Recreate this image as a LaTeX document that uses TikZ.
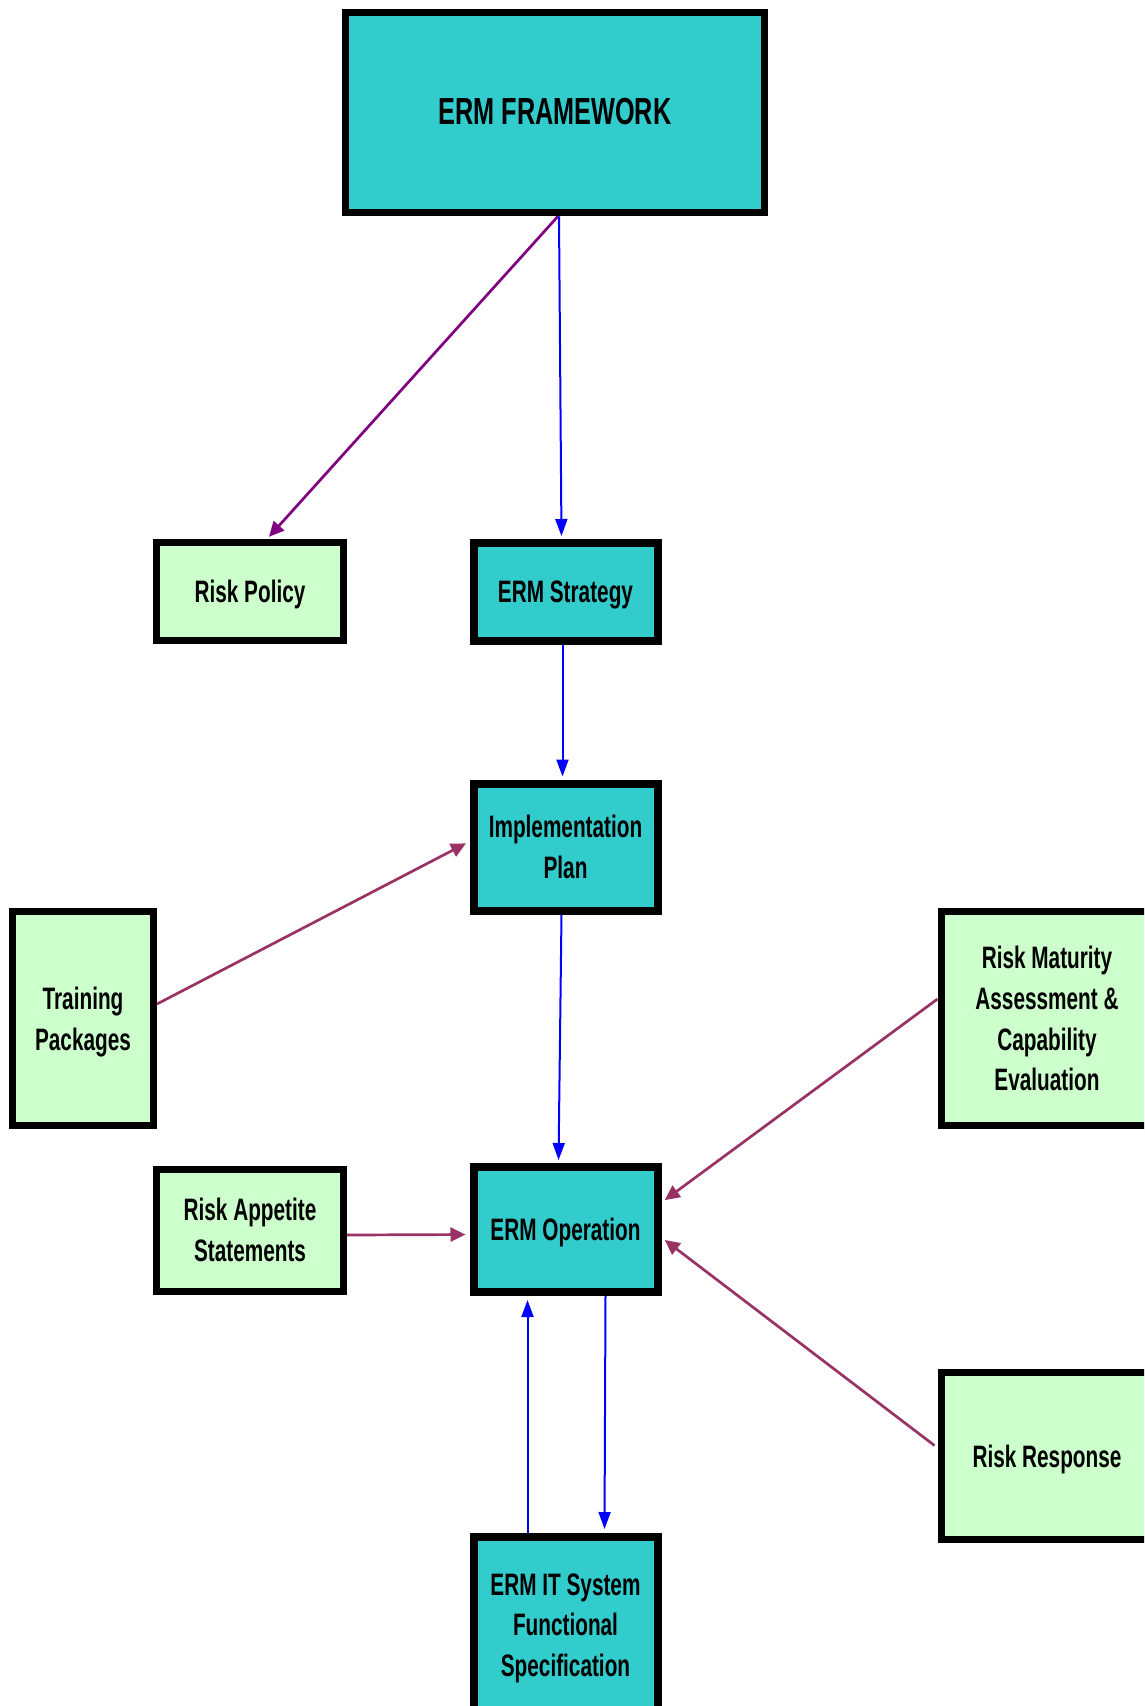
\documentclass[tikz,border=0pt]{standalone}
\usepackage{fontspec}
\setmainfont{Liberation Sans}[FakeStretch=0.67]
\usetikzlibrary{arrows.meta,calc}
\definecolor{ermteal}{HTML}{33CCCC}
\definecolor{ermgreen}{HTML}{CCFFCC}
\definecolor{ermblue}{HTML}{0000FF}
\definecolor{ermmaroon}{HTML}{993366}
\definecolor{ermpurple}{HTML}{800080}
\begin{document}
\begin{tikzpicture}[x=1pt,y=-1pt,
  box/.style={rectangle, draw=black, inner sep=0pt, align=center, text depth=0pt,
    font=\bfseries\fontsize{31}{40.6}\selectfont},
  tealbox/.style={box, fill=ermteal, line width=8pt},
  greenbox/.style={box, fill=ermgreen, line width=7pt},
  bluearrow/.style={draw=ermblue, line width=2pt, -{Triangle[length=17pt,width=12pt]}},
  redarrow/.style={draw=ermmaroon, line width=2.7pt, -{Triangle[length=15pt,width=14pt]}},
  purplearrow/.style={draw=ermpurple, line width=2.7pt, -{Triangle[length=15pt,width=14pt]}},
]
\useasboundingbox (0,0) rectangle (1144,1706);
\clip (0,0) rectangle (1144,1706);

% boxes
\node[tealbox, line width=7.5pt, minimum width=419pt, minimum height=200pt,
  font=\bfseries\fontsize{37.7}{45}\selectfont] (fw) at (555,112.5) {\raisebox{2pt}{ERM FRAMEWORK}};
\node[greenbox, minimum width=187pt, minimum height=98pt] (rp) at (250,591.5) {Risk Policy};
\node[tealbox, minimum width=184pt, minimum height=98pt] (st) at (565.5,592) {ERM Strategy};
\node[tealbox, minimum width=184pt, minimum height=127pt] (ip) at (565.5,847) {Implementation\\Plan};
\node[greenbox, minimum width=141pt, minimum height=214pt] (tp) at (83,1018.5) {Training\\Packages};
\node[greenbox, minimum width=212pt, minimum height=214pt] (rm) at (1047,1018.5) {Risk Maturity\\Assessment \&\\Capability\\Evaluation};
\node[greenbox, minimum width=187pt, minimum height=122pt] (ra) at (250,1230) {Risk Appetite\\Statements};
\node[tealbox, minimum width=184pt, minimum height=125pt] (op) at (565.5,1229.5) {ERM Operation};
\node[greenbox, minimum width=212pt, minimum height=167pt] (rr) at (1047,1456) {Risk Response};
\node[tealbox, minimum width=184pt, minimum height=176pt] (it) at (565.5,1625) {ERM IT System\\Functional\\Specification};

% connectors
\draw[purplearrow, shorten >=3pt] ($(fw.south)+(3,0)$) -- ($(rp.north)+(17,0)$);
\draw[bluearrow, shorten >=3pt] ($(fw.south)+(4,0)$) -- ($(st.north)+(-4,0)$);
\draw[bluearrow, shorten >=3pt] ($(st.south)+(-3,0)$) -- ($(ip.north)+(-3,0)$);
\draw[bluearrow, shorten >=3pt] ($(ip.south)+(-4,0)$) -- ($(op.north)+(-7,0)$);
\draw[redarrow, shorten >=4pt] ($(tp.east)+(0,-14.5)$) -- ($(ip.west)+(0,-5.5)$);
\draw[redarrow, shorten >=4pt] ($(rm.west)+(0,-19.5)$) -- ($(op.east)+(0,-27)$);
\draw[redarrow, shorten >=4pt] ($(ra.east)+(0,5)$) -- ($(op.west)+(0,5)$);
\draw[redarrow, shorten >=4pt] ($(rr.west)+(-3,-10.5)$) -- ($(op.east)+(0,8)$);
\draw[bluearrow, shorten >=4pt] ($(it.north)+(-38,0)$) -- ($(op.south)+(-38,0)$);
\draw[bluearrow, shorten >=4pt] ($(op.south)+(40,0)$) -- ($(it.north)+(39,0)$);
\end{tikzpicture}
\end{document}
